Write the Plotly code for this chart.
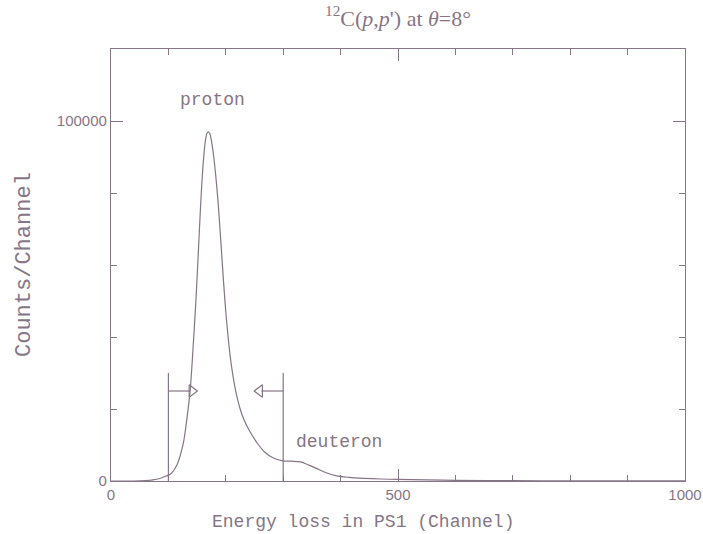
import plotly.graph_objects as go

# ---- data ----
channel = [0, 40, 60, 73, 85, 95, 105, 115, 126, 132, 138, 143, 148, 152, 155, 158, 161, 164, 167,
           169.5, 172, 175, 179, 183, 187, 192, 196, 200, 204, 208, 212, 216, 220, 225, 231, 240,
           254, 268, 283, 300, 315, 330, 345, 358, 375, 393, 415, 440, 470, 498, 550, 600, 700,
           800, 900, 1000]
counts = [0, 0, 100, 300, 700, 1300, 2100, 4500, 10500, 17000, 25300, 37000, 50300, 63000, 73000,
          82000, 89000, 94000, 96500, 97000, 96500, 94500, 90000, 84000, 76500, 65000, 55500,
          47000, 40000, 34200, 29700, 26000, 23000, 20000, 17300, 14300, 10700, 8000, 6400, 5600,
          5500, 5300, 4400, 3500, 2300, 1400, 1000, 750, 550, 450, 300, 200, 100, 60, 30, 20]

cut_channels = [100, 300]
cut_height = 30000
arrow_y = 25000
arrow_len = 50

labels = ["proton", "deuteron"]
label_x = [176, 397]
label_y = [105800, 10900]

x_ticks = [0, 500, 1000]
y_ticks = [0, 100000]

col = "#857585"
mono = "Liberation Mono"

fig = go.Figure()

fig.add_trace(go.Scatter(x=channel, y=counts, mode="lines",
                         line=dict(color=col, width=1.2, shape="spline", smoothing=0.8),
                         hoverinfo="skip", showlegend=False))

# cut lines
for c in cut_channels:
    fig.add_trace(go.Scatter(x=[c, c], y=[0, cut_height], mode="lines",
                             line=dict(color=col, width=1.2), showlegend=False, hoverinfo="skip"))

# arrows (pointing inward)
left, right = cut_channels
fig.add_trace(go.Scatter(x=[left, left + arrow_len - 12], y=[arrow_y, arrow_y], mode="lines",
                         line=dict(color=col, width=1.2), showlegend=False, hoverinfo="skip"))
fig.add_trace(go.Scatter(x=[left + arrow_len - 9], y=[arrow_y], mode="markers",
                         marker=dict(symbol="triangle-right-open", size=11, color=col,
                                     line=dict(width=1.2, color=col)),
                         showlegend=False, hoverinfo="skip"))
fig.add_trace(go.Scatter(x=[right, right - arrow_len + 12], y=[arrow_y, arrow_y], mode="lines",
                         line=dict(color=col, width=1.2), showlegend=False, hoverinfo="skip"))
fig.add_trace(go.Scatter(x=[right - arrow_len + 9], y=[arrow_y], mode="markers",
                         marker=dict(symbol="triangle-left-open", size=11, color=col,
                                     line=dict(width=1.2, color=col)),
                         showlegend=False, hoverinfo="skip"))

for t, xx, yy in zip(labels, label_x, label_y):
    fig.add_annotation(x=xx, y=yy, text=t, showarrow=False,
                       font=dict(family=mono, size=18, color=col))

# axis titles
fig.add_annotation(xref="paper", yref="paper", x=(363 - 111) / 574, y=-0.095,
                   text="Energy loss in PS1 (Channel)", showarrow=False, yanchor="middle",
                   font=dict(family=mono, size=18, color=col))
fig.add_annotation(xref="paper", yref="paper", x=-(111 - 24) / 574, y=0.5,
                   text="Counts/Channel", showarrow=False, textangle=-90, xanchor="center",
                   font=dict(family=mono, size=22, color=col))

fig.update_layout(
    width=703, height=534,
    margin=dict(l=111, r=18, t=49, b=53, autoexpand=False),
    paper_bgcolor="white", plot_bgcolor="white",
    title=dict(text="<sup>12</sup>C(<i>p</i>,<i>p</i>') at <i>θ</i>=8°", x=398 / 703, xanchor="center",
               y=1 - 18 / 534, yanchor="middle",
               font=dict(family="Liberation Serif", size=22, color=col)),
    font=dict(family=mono, color=col),
)

fig.update_xaxes(range=[0, 1000], tickvals=x_ticks, ticks="inside", ticklen=12, tickwidth=1,
                 tickcolor=col, showline=True, linecolor=col, linewidth=1.2, mirror="allticks",
                 showgrid=False, zeroline=False, automargin=False,
                 tickfont=dict(family="Liberation Sans", size=15, color=col),
                 minor=dict(dtick=100, ticks="inside", ticklen=6, tickcolor=col, showgrid=False))
fig.update_yaxes(range=[0, 120000], tickvals=y_ticks, ticks="inside", ticklen=12, tickwidth=1,
                 tickcolor=col, showline=True, linecolor=col, linewidth=1.2, mirror="allticks",
                 showgrid=False, zeroline=False, tickformat="d", automargin=False,
                 tickfont=dict(family="Liberation Sans", size=15, color=col),
                 minor=dict(dtick=20000, ticks="inside", ticklen=6, tickcolor=col, showgrid=False))

fig.write_html("out.html")
